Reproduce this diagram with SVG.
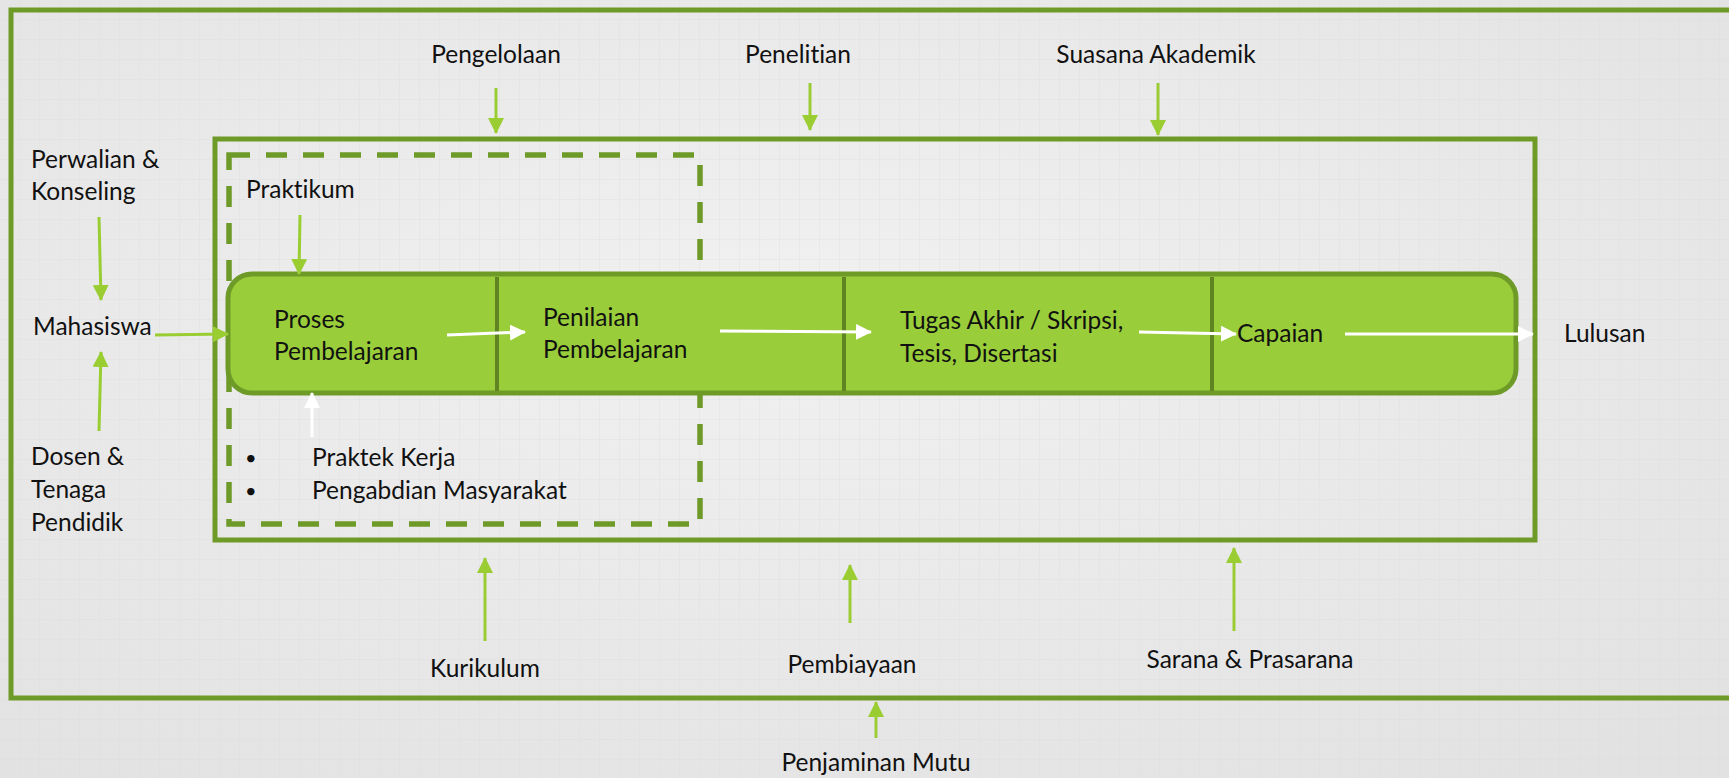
<svg xmlns="http://www.w3.org/2000/svg" width="1729" height="778" viewBox="0 0 1729 778">
<defs>
<radialGradient id="bg" cx="45%" cy="40%" r="75%">
<stop offset="0" stop-color="#f1f1f1"/>
<stop offset="1" stop-color="#e2e2e2"/>
</radialGradient>
<pattern id="grid" width="20" height="20" patternUnits="userSpaceOnUse">
<path d="M20 0V20M0 20H20" fill="none" stroke="#d8d8d8" stroke-width="1" opacity="0.6"/>
</pattern>
<marker id="ag" markerUnits="userSpaceOnUse" markerWidth="16" markerHeight="16" viewBox="0 0 16 16" refX="15" refY="8" orient="auto">
<path d="M0 0L16 8L0 16Z" fill="#9acd32"/>
</marker>
<marker id="aw" markerUnits="userSpaceOnUse" markerWidth="16" markerHeight="16" viewBox="0 0 16 16" refX="15" refY="8" orient="auto">
<path d="M0 0L16 8L0 16Z" fill="#ffffff"/>
</marker>
</defs>
<style>
text{font-family:Lato,"Liberation Sans",Arial,sans-serif;font-size:24.5px;fill:#111;font-variant-ligatures:none;font-feature-settings:"liga" 0}
.bul{font-size:20px}
.frame{fill:none;stroke:#6e9a28;stroke-width:5}
.dash{fill:none;stroke:#6e9a28;stroke-width:5.5;stroke-dasharray:21 16}
.div{stroke:#5f8421;stroke-width:4}
.g{fill:none;stroke:#9acd32;stroke-width:3;marker-end:url(#ag)}
.w{fill:none;stroke:#ffffff;stroke-width:3;marker-end:url(#aw)}
</style>
<rect width="1729" height="778" fill="url(#bg)"/>
<rect width="1729" height="778" fill="url(#grid)"/>

<g id="outer-frame"><rect class="frame" x="11" y="10" width="1740" height="688"/></g>
<g id="inner-frame"><rect class="frame" x="215" y="139" width="1320" height="401"/></g>
<g id="praktikum-frame"><rect class="dash" x="229" y="155" width="471" height="369"/></g>

<g id="process-bar">
<rect x="228" y="274" width="1288" height="119" rx="24" fill="#9acd3a" stroke="#6e9a28" stroke-width="5"/>
<line class="div" x1="497" y1="277" x2="497" y2="391"/>
<line class="div" x1="844" y1="277" x2="844" y2="391"/>
<line class="div" x1="1212" y1="277" x2="1212" y2="391"/>
</g>

<g id="node-proses"><text x="274" y="328">Proses</text><text x="274" y="360">Pembelajaran</text></g>
<g id="node-penilaian"><text x="543" y="326">Penilaian</text><text x="543" y="358">Pembelajaran</text></g>
<g id="node-tugas"><text x="900" y="329">Tugas Akhir / Skripsi,</text><text x="900" y="362">Tesis, Disertasi</text></g>
<g id="node-capaian"><text x="1237" y="342">Capaian</text></g>
<g id="node-lulusan"><text x="1564" y="342">Lulusan</text></g>
<g id="node-pengelolaan"><text x="496" y="63" text-anchor="middle">Pengelolaan</text></g>
<g id="node-penelitian"><text x="798" y="63" text-anchor="middle">Penelitian</text></g>
<g id="node-suasana"><text x="1156" y="63" text-anchor="middle">Suasana Akademik</text></g>
<g id="node-perwalian"><text x="31" y="168">Perwalian &amp;</text><text x="31" y="200">Konseling</text></g>
<g id="node-praktikum"><text x="246" y="198">Praktikum</text></g>
<g id="node-mahasiswa"><text x="33" y="335">Mahasiswa</text></g>
<g id="node-dosen"><text x="31" y="465">Dosen &amp;</text><text x="31" y="498">Tenaga</text><text x="31" y="531">Pendidik</text></g>
<g id="node-praktek"><text class="bul" x="245" y="465">•</text><text x="312" y="466">Praktek Kerja</text><text class="bul" x="245" y="498">•</text><text x="312" y="499">Pengabdian Masyarakat</text></g>
<g id="node-kurikulum"><text x="485" y="677" text-anchor="middle">Kurikulum</text></g>
<g id="node-pembiayaan"><text x="852" y="673" text-anchor="middle">Pembiayaan</text></g>
<g id="node-sarana"><text x="1250" y="668" text-anchor="middle">Sarana &amp; Prasarana</text></g>
<g id="node-penjaminan"><text x="876" y="771" text-anchor="middle">Penjaminan Mutu</text></g>

<g id="connectors">
<line class="g" x1="496" y1="88" x2="496" y2="133"/>
<line class="g" x1="810" y1="83" x2="810" y2="130"/>
<line class="g" x1="1158" y1="83" x2="1158" y2="135"/>
<line class="g" x1="99" y1="217" x2="101" y2="300"/>
<line class="g" x1="155" y1="335" x2="228" y2="334"/>
<line class="g" x1="99" y1="431" x2="101" y2="352"/>
<line class="g" x1="300" y1="215" x2="299" y2="274"/>
<line class="g" x1="485" y1="641" x2="485" y2="558"/>
<line class="g" x1="850" y1="623" x2="850" y2="565"/>
<line class="g" x1="1234" y1="631" x2="1234" y2="548"/>
<line class="g" x1="876" y1="738" x2="876" y2="702"/>
<line class="w" x1="312" y1="437" x2="312" y2="393"/>
<line class="w" x1="447" y1="335" x2="525" y2="332"/>
<line class="w" x1="720" y1="331" x2="871" y2="332"/>
<line class="w" x1="1139" y1="332" x2="1236" y2="334"/>
<line class="w" x1="1345" y1="334" x2="1533" y2="334"/>
</g>
</svg>
